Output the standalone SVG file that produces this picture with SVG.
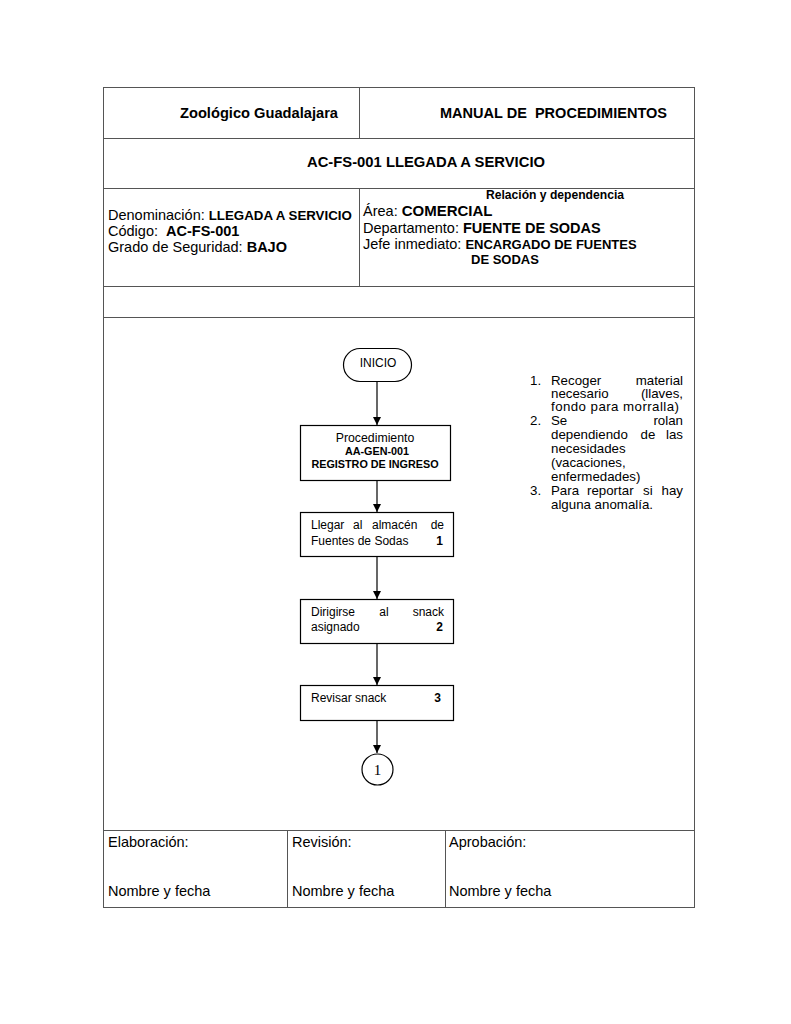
<svg xmlns="http://www.w3.org/2000/svg" width="791" height="1024" viewBox="0 0 791 1024">
<style>
text{font-family:"Liberation Sans",Arial,sans-serif;fill:#000}
.b{font-weight:bold}
.t{stroke:#555;stroke-width:1;fill:none}
.n{fill:#fff;stroke:#000;stroke-width:1.2}
.c{stroke:#000;stroke-width:1.2;fill:none;marker-end:url(#ah)}
.nt{font-size:13.3px}
.bx{font-size:12px}
</style>
<defs>
<marker id="ah" markerWidth="10" markerHeight="10" refX="9" refY="5" orient="auto" markerUnits="userSpaceOnUse">
<path d="M1,1 L9,5 L1,9 Z" fill="#000"/>
</marker>
</defs>
<rect width="791" height="1024" fill="#fff"/>
<g id="table">
<rect class="t" x="103.5" y="87.5" width="591" height="820"/>
<line class="t" x1="103" y1="138.5" x2="694" y2="138.5"/>
<line class="t" x1="103" y1="188.5" x2="694" y2="188.5"/>
<line class="t" x1="103" y1="286.5" x2="694" y2="286.5"/>
<line class="t" x1="103" y1="317.5" x2="694" y2="317.5"/>
<line class="t" x1="103" y1="830.5" x2="694" y2="830.5"/>
<line class="t" x1="359.5" y1="87" x2="359.5" y2="138"/>
<line class="t" x1="359.5" y1="188" x2="359.5" y2="286"/>
<line class="t" x1="287.5" y1="830" x2="287.5" y2="907"/>
<line class="t" x1="445.5" y1="830" x2="445.5" y2="907"/>
</g>
<g id="header">
<text class="b" x="180" y="118" font-size="14.5" textLength="158" lengthAdjust="spacingAndGlyphs">Zoológico Guadalajara</text>
<text class="b" x="440" y="118" font-size="14.5" xml:space="preserve" textLength="227" lengthAdjust="spacingAndGlyphs">MANUAL DE  PROCEDIMIENTOS</text>
<text class="b" x="307" y="167" font-size="15" textLength="238" lengthAdjust="spacingAndGlyphs">AC-FS-001 LLEGADA A SERVICIO</text>
<text class="b" x="486" y="199" font-size="12" textLength="138" lengthAdjust="spacingAndGlyphs">Relación y dependencia</text>
<text x="108" y="220" font-size="14.5">Denominación: <tspan class="b" font-size="13.3">LLEGADA A SERVICIO</tspan></text>
<text x="108" y="236" font-size="14.5" xml:space="preserve">Código:  <tspan class="b">AC-FS-001</tspan></text>
<text x="108" y="252" font-size="14.5">Grado de Seguridad: <tspan class="b">BAJO</tspan></text>
<text x="363" y="216" font-size="14.5">Área: <tspan class="b" font-size="15">COMERCIAL</tspan></text>
<text x="363" y="233" font-size="14.5">Departamento: <tspan class="b" font-size="14.5">FUENTE DE SODAS</tspan></text>
<text x="363" y="249" font-size="14.5">Jefe inmediato: <tspan class="b" font-size="13">ENCARGADO DE FUENTES</tspan></text>
<text class="b" x="471" y="264" font-size="13">DE SODAS</text>
</g>
<g id="connectors">
<line class="c" x1="377" y1="381" x2="377" y2="425"/>
<line class="c" x1="377" y1="480" x2="377" y2="512"/>
<line class="c" x1="377" y1="556" x2="377" y2="599"/>
<line class="c" x1="377" y1="643" x2="377" y2="685"/>
<line class="c" x1="377" y1="720" x2="377" y2="753"/>
</g>
<g id="inicio">
<rect class="n" x="343.5" y="348.5" width="68" height="33" rx="16.5"/>
<text x="378" y="367" font-size="12" text-anchor="middle">INICIO</text>
</g>
<g id="proc">
<rect class="n" x="300.5" y="425.5" width="150" height="55"/>
<text x="375" y="442" font-size="12.3" text-anchor="middle">Procedimiento</text>
<text class="b" x="377" y="455" font-size="10.8" text-anchor="middle">AA-GEN-001</text>
<text class="b" x="375" y="468" font-size="10.8" text-anchor="middle">REGISTRO DE INGRESO</text>
</g>
<g id="step1">
<rect class="n" x="300.5" y="512.5" width="153" height="44"/>
<text class="bx" x="311" y="529">Llegar</text>
<text class="bx" x="353" y="529">al</text>
<text class="bx" x="372" y="529">almacén</text>
<text class="bx" x="444" y="529" text-anchor="end">de</text>
<text class="bx" x="311" y="545">Fuentes de Sodas</text>
<text class="b bx" x="443" y="545" text-anchor="end">1</text>
</g>
<g id="step2">
<rect class="n" x="300.5" y="599.5" width="153" height="44"/>
<text class="bx" x="311" y="616">Dirigirse</text>
<text class="bx" x="384" y="616" text-anchor="middle">al</text>
<text class="bx" x="444" y="616" text-anchor="end">snack</text>
<text class="bx" x="311" y="631">asignado</text>
<text class="b bx" x="443" y="631" text-anchor="end">2</text>
</g>
<g id="step3">
<rect class="n" x="300.5" y="685.5" width="153" height="35"/>
<text class="bx" x="311" y="702">Revisar snack</text>
<text class="b bx" x="441" y="702" text-anchor="end">3</text>
</g>
<g id="conn1">
<circle class="n" cx="377.5" cy="769.5" r="15.5"/>
<text x="377.5" y="775" font-size="15" style="font-family:'Liberation Serif',serif" text-anchor="middle">1</text>
</g>
<g id="notes">
<text class="nt" x="530" y="385">1.</text>
<text class="nt" x="551" y="385">Recoger</text>
<text class="nt" x="683" y="385" text-anchor="end">material</text>
<text class="nt" x="551" y="398">necesario</text>
<text class="nt" x="683" y="398" text-anchor="end">(llaves,</text>
<text class="nt" x="551" y="411" textLength="128" lengthAdjust="spacing">fondo para morralla)</text>
<text class="nt" x="530" y="425">2.</text>
<text class="nt" x="551" y="425">Se</text>
<text class="nt" x="683" y="425" text-anchor="end">rolan</text>
<text class="nt" x="551" y="439">dependiendo</text>
<text class="nt" x="648" y="439" text-anchor="middle">de</text>
<text class="nt" x="683" y="439" text-anchor="end">las</text>
<text class="nt" x="551" y="453">necesidades</text>
<text class="nt" x="551" y="467">(vacaciones,</text>
<text class="nt" x="551" y="481">enfermedades)</text>
<text class="nt" x="530" y="495">3.</text>
<text class="nt" x="551" y="495">Para</text>
<text class="nt" x="587" y="495">reportar</text>
<text class="nt" x="643" y="495">si</text>
<text class="nt" x="683" y="495" text-anchor="end">hay</text>
<text class="nt" x="551" y="509">alguna anomalía.</text>
</g>
<g id="footer">
<text x="108" y="847" font-size="14.5">Elaboración:</text>
<text x="292" y="847" font-size="14.5">Revisión:</text>
<text x="449" y="847" font-size="14.5">Aprobación:</text>
<text x="108" y="896" font-size="14.5">Nombre y fecha</text>
<text x="292" y="896" font-size="14.5">Nombre y fecha</text>
<text x="449" y="896" font-size="14.5">Nombre y fecha</text>
</g>
</svg>
